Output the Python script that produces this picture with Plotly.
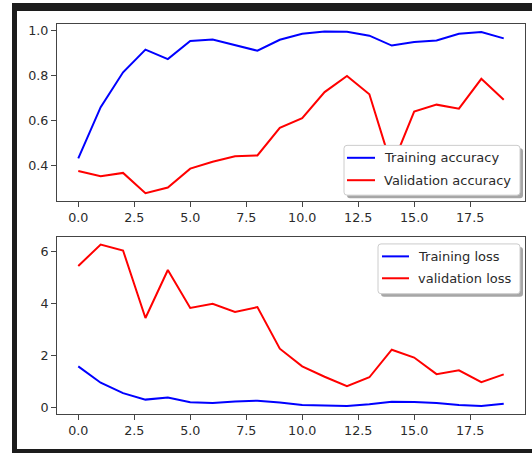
import plotly.graph_objects as go

epochs = list(range(20))
train_acc = [0.432, 0.66, 0.815, 0.916, 0.874, 0.954, 0.961, 0.936, 0.911, 0.96,
             0.987, 0.997, 0.995, 0.978, 0.934, 0.95, 0.957, 0.987, 0.994, 0.966]
val_acc = [0.376, 0.352, 0.367, 0.277, 0.302, 0.386, 0.417, 0.441, 0.445, 0.568,
           0.611, 0.727, 0.799, 0.717, 0.395, 0.64, 0.671, 0.653, 0.786, 0.693]
train_loss = [1.59, 0.96, 0.56, 0.31, 0.39, 0.21, 0.18, 0.24, 0.27, 0.20,
              0.10, 0.07, 0.06, 0.13, 0.23, 0.22, 0.18, 0.10, 0.06, 0.15]
val_loss = [5.45, 6.28, 6.05, 3.45, 5.30, 3.84, 4.00, 3.68, 3.87, 2.27,
            1.59, 1.19, 0.83, 1.17, 2.23, 1.93, 1.29, 1.44, 0.98, 1.28]

x_ticks = [0, 2.5, 5, 7.5, 10, 12.5, 15, 17.5]
acc_ticks = [0.4, 0.6, 0.8, 1.0]
loss_ticks = [0, 2, 4, 6]

W, H = 532, 454
BLUE, RED = "#0000ff", "#ff0000"
FONT = "DejaVu Sans"
FS_TICK = 12.7
FS_LEG = 13
TXT = "#2a2a2a"


def px(x):
    return x / W


def py(y):
    return 1 - y / H


fig = go.Figure()
fig.add_trace(go.Scatter(x=epochs, y=train_acc, mode="lines", line=dict(color=BLUE, width=2),
                         xaxis="x", yaxis="y", showlegend=False))
fig.add_trace(go.Scatter(x=epochs, y=val_acc, mode="lines", line=dict(color=RED, width=2),
                         xaxis="x", yaxis="y", showlegend=False))
fig.add_trace(go.Scatter(x=epochs, y=train_loss, mode="lines", line=dict(color=BLUE, width=2),
                         xaxis="x2", yaxis="y2", showlegend=False))
fig.add_trace(go.Scatter(x=epochs, y=val_loss, mode="lines", line=dict(color=RED, width=2),
                         xaxis="x2", yaxis="y2", showlegend=False))

axis_common = dict(showline=True, mirror=True, linecolor="#444", linewidth=1,
                   ticks="outside", ticklen=5, tickwidth=1, tickcolor="#444",
                   showgrid=False, zeroline=False,
                   tickfont=dict(family=FONT, size=FS_TICK, color=TXT))

xdom = [px(57), px(525)]
fig.update_layout(
    width=W, height=H, margin=dict(l=0, r=0, t=0, b=0),
    paper_bgcolor="white", plot_bgcolor="white",
    xaxis=dict(domain=xdom, range=[-0.95, 19.95], tickvals=x_ticks, tickformat=".1f",
               anchor="y", **axis_common),
    yaxis=dict(domain=[py(201), py(23)], range=[0.2415, 1.0305], tickvals=acc_ticks,
               tickformat=".1f", anchor="x", **axis_common),
    xaxis2=dict(domain=xdom, range=[-0.95, 19.95], tickvals=x_ticks, tickformat=".1f",
                anchor="y2", **axis_common),
    yaxis2=dict(domain=[py(415), py(237)], range=[-0.25, 6.57], tickvals=loss_ticks,
                tickformat="d", anchor="x2", **axis_common),
)

shapes = []
DARK = "#1c1c1c"
# outer dark frame
shapes.append(dict(type="rect", xref="paper", yref="paper", x0=px(12), x1=px(17), y0=py(454), y1=py(2),
                   fillcolor=DARK, line=dict(width=0), layer="above"))
shapes.append(dict(type="rect", xref="paper", yref="paper", x0=px(12), x1=px(532), y0=py(10), y1=py(2),
                   fillcolor=DARK, line=dict(width=0), layer="above"))
shapes.append(dict(type="rect", xref="paper", yref="paper", x0=px(12), x1=px(532), y0=py(454), y1=py(450),
                   fillcolor=DARK, line=dict(width=0), layer="above"))


def rrect(x0, y0, x1, y1, r=3):
    return (f"M {px(x0 + r)} {py(y0)} L {px(x1 - r)} {py(y0)} Q {px(x1)} {py(y0)} {px(x1)} {py(y0 + r)} "
            f"L {px(x1)} {py(y1 - r)} Q {px(x1)} {py(y1)} {px(x1 - r)} {py(y1)} "
            f"L {px(x0 + r)} {py(y1)} Q {px(x0)} {py(y1)} {px(x0)} {py(y1 - r)} "
            f"L {px(x0)} {py(y0 + r)} Q {px(x0)} {py(y0)} {px(x0 + r)} {py(y0)} Z")


annotations = []


def legend(box, handle_x, text_x, rows):
    x0, y0, x1, y1 = box
    shapes.append(dict(type="path", xref="paper", yref="paper", path=rrect(x0 + 3, y0 + 3, x1 + 3, y1 + 3),
                       fillcolor="rgba(0,0,0,0.35)", line=dict(width=0), layer="above"))
    shapes.append(dict(type="path", xref="paper", yref="paper", path=rrect(x0, y0, x1, y1),
                       fillcolor="white", line=dict(color="#cccccc", width=1), layer="above"))
    for ry, color, label in rows:
        shapes.append(dict(type="line", xref="paper", yref="paper", x0=px(handle_x[0]), x1=px(handle_x[1]),
                           y0=py(ry), y1=py(ry), line=dict(color=color, width=2), layer="above"))
        annotations.append(dict(xref="paper", yref="paper", x=px(text_x), y=py(ry), text=label,
                                showarrow=False, xanchor="left", yanchor="middle",
                                font=dict(family=FONT, size=FS_LEG, color=TXT)))


legend((344, 145, 520, 195), (347, 375), 382,
       [(157.5, BLUE, "Training accuracy"), (180, RED, "Validation accuracy")])
legend((378, 244, 520, 294), (382, 409), 416,
       [(256.5, BLUE, "Training loss"), (278.5, RED, "validation loss")])

fig.update_layout(shapes=shapes, annotations=annotations)
fig.write_html("out.html")
